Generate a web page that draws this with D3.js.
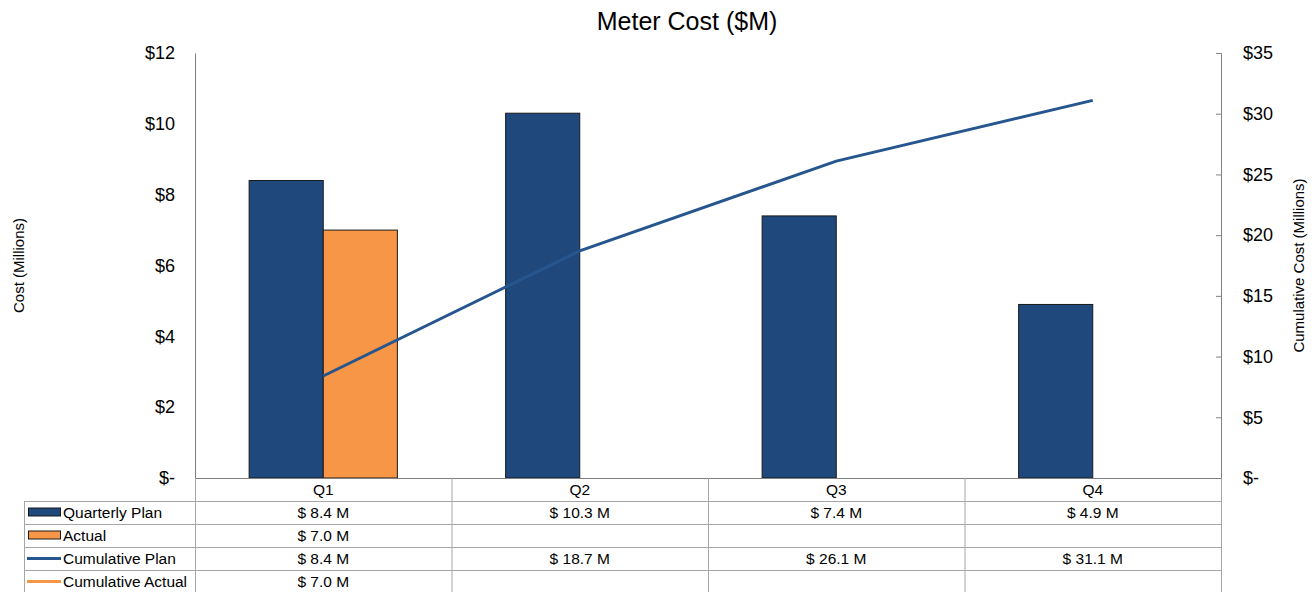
<!DOCTYPE html>
<html>
<head>
<meta charset="utf-8">
<script src="https://cdn.jsdelivr.net/npm/d3@7"></script>
<style>
  body { margin: 0; background: #fff; }
  text { font-family: "Liberation Sans", Arial, sans-serif; fill: #000; }
</style>
</head>
<body>
<div id="chart"></div>
<script>
// Data
var quarters = ["Q1", "Q2", "Q3", "Q4"];
var quarterlyPlan = [8.4, 10.3, 7.4, 4.9];
var actual = [7.0, null, null, null];
var cumulativePlan = [8.4, 18.7, 26.1, 31.1];
var cumulativeActual = [7.0, null, null, null];
var leftTicks = [0, 2, 4, 6, 8, 10, 12];
var rightTicks = [0, 5, 10, 15, 20, 25, 30, 35];

function renderChart() {
  var navy = "#1f497d";
  var orange = "#f79646";
  var lineBlue = "#27568f";
  var grid = "#a6a6a6";

  // Chart Setup
  var W = 1315, H = 592;
  var plotLeft = 195, plotRight = 1221, plotTop = 53, plotBottom = 478;
  var rowH = 23;

  var svg = d3.select("#chart").append("svg")
    .attr("width", W).attr("height", H);

  var x = d3.scaleBand().domain(quarters).range([plotLeft, plotRight]);
  var bw = x.bandwidth();
  var x1 = d3.scaleBand().domain(["plan", "actual"])
    .range([bw / 2 - bw * 0.289, bw / 2 + bw * 0.289]);
  var yL = d3.scaleLinear().domain([0, 12]).range([plotBottom, plotTop]);
  var yR = d3.scaleLinear().domain([0, 35]).range([plotBottom, plotTop]);

  function money(d) { return d === 0 ? "$-" : "$" + d; }

  // Title
  svg.append("text")
    .attr("x", 687).attr("y", 30)
    .attr("text-anchor", "middle")
    .style("font-size", "25px")
    .text("Meter Cost ($M)");

  // Left axis (no ticks)
  var gl = svg.append("g").attr("transform", "translate(" + plotLeft + ",0)")
    .call(d3.axisLeft(yL).tickValues(leftTicks).tickFormat(money).tickSize(0).tickPadding(20));
  gl.select(".domain").attr("stroke", "#808080");
  gl.selectAll("text").style("font-size", "18px").style("font-family", "Liberation Sans, Arial, sans-serif");

  // Right axis
  var gr = svg.append("g").attr("transform", "translate(" + plotRight + ",0)")
    .call(d3.axisRight(yR).tickValues(rightTicks).tickFormat(money).tickSizeInner(-5).tickSizeOuter(-5).tickPadding(22));
  gr.select(".domain").attr("stroke", "#808080");
  gr.selectAll("line").attr("stroke", "#808080");
  gr.selectAll("text").style("font-size", "18px").style("font-family", "Liberation Sans, Arial, sans-serif");

  // Axis titles
  svg.append("text")
    .attr("transform", "translate(24," + ((plotTop + plotBottom) / 2) + ") rotate(-90)")
    .attr("text-anchor", "middle").style("font-size", "15px")
    .text("Cost (Millions)");
  svg.append("text")
    .attr("transform", "translate(1304," + ((plotTop + plotBottom) / 2) + ") rotate(-90)")
    .attr("text-anchor", "middle").style("font-size", "15px")
    .text("Cumulative Cost (Millions)");

  // Bars
  var barData = [];
  quarters.forEach(function(q, i) {
    if (quarterlyPlan[i] != null) barData.push({ q: q, k: "plan", v: quarterlyPlan[i] });
    if (actual[i] != null) barData.push({ q: q, k: "actual", v: actual[i] });
  });
  svg.selectAll(".bar").data(barData).enter().append("rect")
    .attr("class", "bar")
    .attr("x", function(d) { return x(d.q) + x1(d.k); })
    .attr("y", function(d) { return yL(d.v); })
    .attr("width", x1.bandwidth())
    .attr("height", function(d) { return plotBottom - yL(d.v); })
    .attr("fill", function(d) { return d.k === "plan" ? navy : orange; })
    .attr("stroke", "#1a1a1a").attr("stroke-width", 1);

  // Cumulative lines
  var line = d3.line()
    .defined(function(d) { return d != null; })
    .x(function(d, i) { return x(quarters[i]) + bw / 2; })
    .y(function(d) { return yR(d); });
  svg.append("path").datum(cumulativePlan)
    .attr("d", line).attr("fill", "none")
    .attr("stroke", lineBlue).attr("stroke-width", 3);
  svg.append("path").datum(cumulativeActual)
    .attr("d", line).attr("fill", "none")
    .attr("stroke", orange).attr("stroke-width", 3);

  // Data table
  var tbl = svg.append("g");
  var legendLeft = 24;
  var rows = [
    { name: "Quarterly Plan", vals: quarterlyPlan, type: "rect", color: navy },
    { name: "Actual", vals: actual, type: "rect", color: orange },
    { name: "Cumulative Plan", vals: cumulativePlan, type: "line", color: lineBlue },
    { name: "Cumulative Actual", vals: cumulativeActual, type: "line", color: orange }
  ];
  var tableBottom = plotBottom + rowH * 5 + 2;

  // Horizontal lines
  tbl.append("line").attr("x1", plotLeft).attr("x2", plotRight)
    .attr("y1", plotBottom + 0.5).attr("y2", plotBottom + 0.5).attr("stroke", "#808080");
  rows.forEach(function(r, i) {
    var yy = plotBottom + rowH * (i + 1) + 0.5;
    tbl.append("line").attr("x1", legendLeft).attr("x2", plotRight)
      .attr("y1", yy).attr("y2", yy).attr("stroke", grid);
  });
  // Vertical lines
  tbl.append("line").attr("x1", legendLeft + 0.5).attr("x2", legendLeft + 0.5)
    .attr("y1", plotBottom + rowH).attr("y2", tableBottom).attr("stroke", grid);
  quarters.concat(["end"]).forEach(function(q, i) {
    var xx = (i < quarters.length ? x(q) : plotRight) + 0.5;
    tbl.append("line").attr("x1", xx).attr("x2", xx)
      .attr("y1", plotBottom).attr("y2", tableBottom).attr("stroke", grid);
  });

  // Header labels
  tbl.selectAll(".qlabel").data(quarters).enter().append("text")
    .attr("x", function(d) { return x(d) + bw / 2; })
    .attr("y", plotBottom + 17)
    .attr("text-anchor", "middle").style("font-size", "15.5px")
    .text(function(d) { return d; });

  rows.forEach(function(r, i) {
    var cy = plotBottom + rowH * (i + 1) + rowH / 2;
    if (r.type === "rect") {
      tbl.append("rect").attr("x", 28.5).attr("y", cy - 4.5).attr("width", 32).attr("height", 8)
        .attr("fill", r.color).attr("stroke", "#1a1a1a").attr("stroke-width", 1);
    } else {
      tbl.append("line").attr("x1", 27).attr("x2", 61).attr("y1", cy).attr("y2", cy)
        .attr("stroke", r.color).attr("stroke-width", 3);
    }
    tbl.append("text").attr("x", 63).attr("y", cy + 5.5)
      .style("font-size", "15.5px").text(r.name);
    r.vals.forEach(function(v, j) {
      if (v == null) return;
      tbl.append("text")
        .attr("x", x(quarters[j]) + bw / 2)
        .attr("y", cy + 5.5)
        .attr("text-anchor", "middle").style("font-size", "15.5px")
        .text("$ " + v.toFixed(1) + " M");
    });
  });
}

renderChart();
</script>
</body>
</html>
